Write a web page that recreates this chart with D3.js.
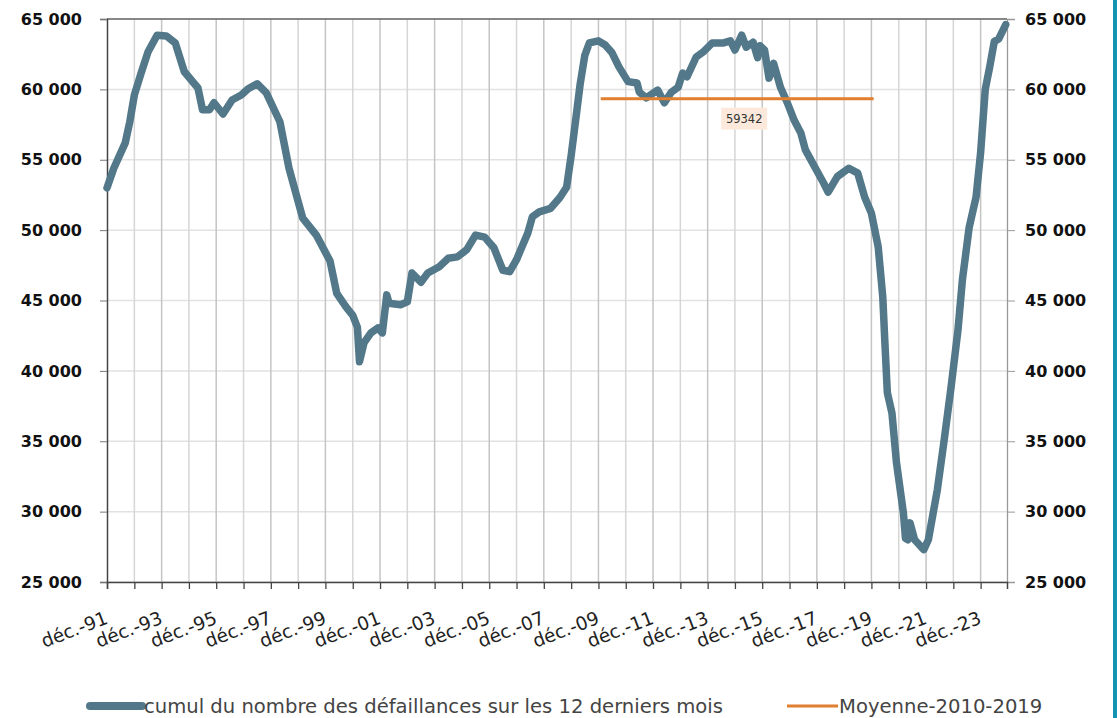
<!DOCTYPE html>
<html>
<head>
<meta charset="utf-8">
<script src="https://cdn.jsdelivr.net/npm/d3@7"></script>
<style>
  html, body { margin: 0; padding: 0; background: #fff; }
  svg { display: block; font-family: "DejaVu Sans", sans-serif; }
</style>
</head>
<body>
<svg width="1117" height="718"></svg>
<script>
// cumul sur 12 mois
var months = ["1991-12","1992-03","1992-08","1992-10","1992-12","1993-03","1993-06","1993-10",
  "1994-02","1994-06","1994-10","1995-04","1995-06","1995-09","1995-11","1996-03","1996-07",
  "1996-11","1997-02","1997-06","1997-10","1998-04","1998-08","1999-02","1999-08","2000-02",
  "2000-05","2000-09","2000-12","2001-02","2001-03","2001-05","2001-08","2001-11","2002-01",
  "2002-03","2002-04","2002-09","2002-12","2003-02","2003-06","2003-09","2004-02","2004-06",
  "2004-10","2005-02","2005-06","2005-10","2006-02","2006-06","2006-09","2006-12","2007-05",
  "2007-07","2007-10","2008-03","2008-07","2008-10","2008-12","2009-02","2009-04","2009-06",
  "2009-08","2009-12",
  "2010-03","2010-06","2010-09","2011-01","2011-05","2011-06","2011-09","2012-02","2012-05",
  "2012-08","2012-11","2013-01","2013-03","2013-07","2013-10","2014-02","2014-07","2014-10",
  "2014-12","2015-03","2015-05","2015-08","2015-10","2015-11","2016-01","2016-03","2016-05",
  "2016-08","2016-11","2017-02","2017-05","2017-07","2017-11","2018-03","2018-05","2018-09",
  "2019-02","2019-06","2019-09","2019-12","2020-03","2020-05","2020-06","2020-07","2020-09",
  "2020-11","2021-02","2021-03","2021-04","2021-05","2021-07","2021-11","2022-01","2022-05",
  "2022-08","2022-11","2023-02","2023-04","2023-07","2023-10","2023-12","2024-02","2024-04",
  "2024-06","2024-08","2024-11"];
var defaillances = [53000,54400,56200,57700,59600,61150,62650,63850,
  63800,63300,61250,60100,58550,58550,59050,58250,59250,
  59600,60050,60400,59750,57700,54400,50850,49650,47800,
  45500,44550,43950,43100,40650,42000,42700,43050,42700,
  45400,44800,44700,44900,46950,46300,46950,47400,48000,
  48100,48600,49650,49500,48750,47150,47050,47900,49800,
  50950,51300,51550,52300,53050,55300,57900,60400,62400,
  63300,63450,
  63150,62600,61600,60550,60450,59800,59400,59950,59050,
  59800,60150,61150,60900,62300,62650,63300,63300,63450,
  62800,63850,63000,63350,62250,63100,62800,60800,61850,
  60150,59050,57800,56900,55700,54500,53350,52700,53800,
  54400,54050,52350,51200,48800,45250,41700,38450,37000,
  33450,29900,28100,28000,29200,28000,27300,28000,31550,
  35100,38850,42900,46450,50200,52350,55500,60000,61600,
  63400,63600,64600];

var moyenne = 59342;
var moyennePeriode = ["2010-01-01", "2019-12-31"];

var yTicks = [25000, 30000, 35000, 40000, 45000, 50000, 55000, 60000, 65000];
var tickYears = ["1991","1992","1993","1994","1995","1996","1997","1998","1999","2000","2001",
  "2002","2003","2004","2005","2006","2007","2008","2009","2010","2011","2012","2013","2014",
  "2015","2016","2017","2018","2019","2020","2021","2022","2023"];
var xLabels = ["déc.-91","déc.-93","déc.-95","déc.-97","déc.-99","déc.-01","déc.-03","déc.-05",
  "déc.-07","déc.-09","déc.-11","déc.-13","déc.-15","déc.-17","déc.-19","déc.-21","déc.-23"];

var serieName = "cumul du nombre des défaillances sur les 12 derniers mois";
var moyenneName = "Moyenne-2010-2019";

var svg = d3.select("svg");
var margin = {left: 107, right: 110, top: 19, bottom: 136};
var width = 1117, height = 718;

var parseMonth = d3.timeParse("%Y-%m");
var parseDay = d3.timeParse("%Y-%m-%d");

var data = months.map(function(m, i) { return {date: parseMonth(m), value: defaillances[i]}; });

var x = d3.scaleTime()
    .domain([parseDay("1991-12-01"), parseDay("2024-11-18")])
    .range([margin.left, width - margin.right]);
var y = d3.scaleLinear()
    .domain([25000, 65000])
    .range([height - margin.bottom, margin.top]);

var fr = d3.formatLocale({decimal: ",", thousands: " ", grouping: [3], currency: ["", " €"]});
var fmt = fr.format(",");

var tickDates = tickYears.map(function(yr) { return parseDay(yr + "-12-01"); });

// gridlines
svg.append("g").attr("class", "hgrid")
  .selectAll("line").data(yTicks).enter().append("line")
    .attr("x1", margin.left).attr("x2", width - margin.right)
    .attr("y1", function(d) { return y(d); }).attr("y2", function(d) { return y(d); })
    .attr("stroke", "#e2e2e2").attr("stroke-width", 1.5);

svg.append("g").attr("class", "vgrid")
  .selectAll("line").data(tickDates.slice(1)).enter().append("line")
    .attr("x1", function(d) { return x(d); }).attr("x2", function(d) { return x(d); })
    .attr("y1", margin.top).attr("y2", height - margin.bottom)
    .attr("stroke", function(d, i) { return i % 2 == 0 ? "#d6d6d6" : "#c4c4c4"; })
    .attr("stroke-width", 1.5);

// frame top
svg.append("line")
  .attr("x1", margin.left).attr("x2", width - margin.right)
  .attr("y1", margin.top).attr("y2", margin.top)
  .attr("stroke", "#666").attr("stroke-width", 1.3);

// left axis
var yLeft = svg.append("g")
  .attr("transform", "translate(" + margin.left + ",0)")
  .call(d3.axisLeft(y).tickValues(yTicks).tickFormat(fmt).tickSize(7).tickPadding(18));
yLeft.select(".domain").attr("stroke", "#444").attr("stroke-width", 1.5);
yLeft.selectAll(".tick line").attr("stroke", "#777");
yLeft.selectAll("text").attr("font-size", 16).attr("font-weight", "bold")
  .attr("fill", "#111").attr("font-family", "DejaVu Sans, sans-serif");

// right axis
var yRight = svg.append("g")
  .attr("transform", "translate(" + (width - margin.right) + ",0)")
  .call(d3.axisRight(y).tickValues(yTicks).tickFormat(fmt).tickSize(8).tickPadding(10));
yRight.select(".domain").attr("stroke", "#999").attr("stroke-width", 1.3);
yRight.selectAll(".tick line").attr("stroke", "#999");
yRight.selectAll("text").attr("font-size", 16).attr("font-weight", "bold")
  .attr("fill", "#111").attr("font-family", "DejaVu Sans, sans-serif");

// bottom axis
var xAxis = svg.append("g")
  .attr("transform", "translate(0," + (height - margin.bottom) + ")")
  .call(d3.axisBottom(x).tickValues(tickDates).tickSize(7).tickFormat(""));
xAxis.select(".domain").attr("stroke", "#444").attr("stroke-width", 1.5);
xAxis.selectAll(".tick line").attr("stroke", "#444").attr("stroke-width", 1.3);

svg.append("g").attr("class", "xlabels")
  .selectAll("text").data(xLabels).enter().append("text")
    .attr("transform", function(d, i) {
      return "translate(" + (x(tickDates[i * 2]) + 2) + "," + (height - margin.bottom + 41) + ") rotate(-21)";
    })
    .attr("text-anchor", "end")
    .attr("font-size", 18.5)
    .attr("fill", "#222")
    .text(function(d) { return d; });

// series
var line = d3.line()
  .x(function(d) { return x(d.date); })
  .y(function(d) { return y(d.value); });

svg.append("path")
  .datum(data)
  .attr("d", line)
  .attr("fill", "none")
  .attr("stroke", "#527889")
  .attr("stroke-width", 7.5)
  .attr("stroke-linejoin", "round")
  .attr("stroke-linecap", "round");

// moyenne 2010-2019
var avgData = moyennePeriode.map(function(d) { return {date: parseDay(d), value: moyenne}; });
svg.append("path")
  .datum(avgData)
  .attr("d", line)
  .attr("stroke", "#e07f30")
  .attr("stroke-width", 3);

var midX = (x(avgData[0].date) + x(avgData[1].date)) / 2 + 7;
svg.append("rect")
  .attr("x", midX - 23).attr("y", y(moyenne) + 9)
  .attr("width", 46).attr("height", 22)
  .attr("fill", "#fce9db");
svg.append("text")
  .attr("x", midX).attr("y", y(moyenne) + 24)
  .attr("text-anchor", "middle")
  .attr("font-size", 11.5)
  .attr("fill", "#333")
  .text(moyenne);

// legend
var legY = 706;
svg.append("line")
  .attr("x1", 90).attr("x2", 142).attr("y1", legY).attr("y2", legY)
  .attr("stroke", "#527889").attr("stroke-width", 8).attr("stroke-linecap", "round");
svg.append("text")
  .attr("x", 144).attr("y", legY + 7)
  .attr("font-size", 19.6).attr("fill", "#444")
  .text(serieName);
svg.append("line")
  .attr("x1", 787).attr("x2", 838).attr("y1", legY).attr("y2", legY)
  .attr("stroke", "#e07f30").attr("stroke-width", 3);
svg.append("text")
  .attr("x", 839).attr("y", legY + 7)
  .attr("font-size", 19.6).attr("fill", "#444")
  .text(moyenneName);

// bord droit
svg.append("rect")
  .attr("x", 1113).attr("y", 0).attr("width", 4).attr("height", height)
  .attr("fill", "#1593b3");
</script>
</body>
</html>
